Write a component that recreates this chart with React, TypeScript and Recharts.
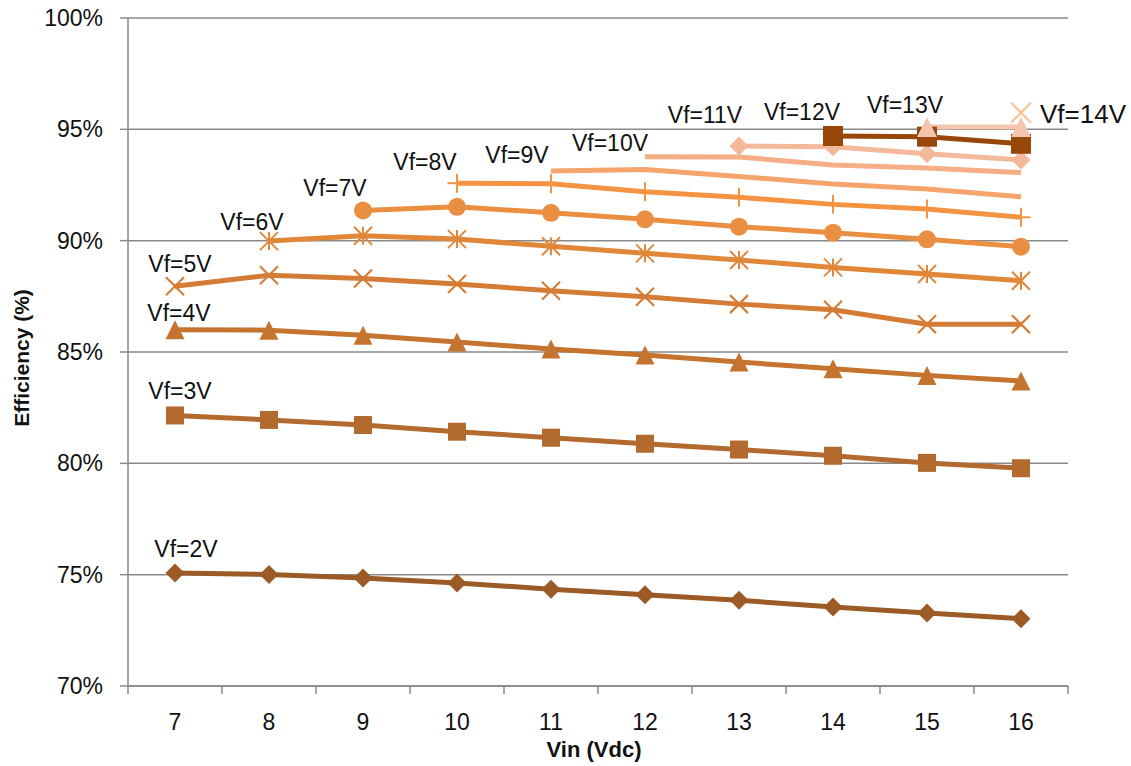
import { CartesianGrid, Label, Line, LineChart, XAxis, YAxis } from 'recharts'

// input voltage categories (Vdc)
const VIN = [7, 8, 9, 10, 11, 12, 13, 14, 15, 16]
// tick marks sit between the categories
const VIN_DIVIDERS = [6.5, 7.5, 8.5, 9.5, 10.5, 11.5, 12.5, 13.5, 14.5, 15.5, 16.5]
const EFF_TICKS = [70, 75, 80, 85, 90, 95, 100]

// efficiency (%) per forward voltage, null where the converter can't run
const VF_2V = [75.08, 75.01, 74.85, 74.63, 74.35, 74.1, 73.85, 73.55, 73.28, 73.02]
const VF_3V = [82.15, 81.95, 81.72, 81.42, 81.15, 80.88, 80.62, 80.34, 80.02, 79.78]
const VF_4V = [86.0, 85.98, 85.75, 85.45, 85.13, 84.87, 84.55, 84.25, 83.95, 83.7]
const VF_5V = [87.95, 88.45, 88.3, 88.05, 87.75, 87.48, 87.15, 86.9, 86.25, 86.25]
const VF_6V = [null, 89.98, 90.22, 90.07, 89.75, 89.43, 89.13, 88.8, 88.5, 88.2]
const VF_7V = [null, null, 91.36, 91.52, 91.25, 90.96, 90.63, 90.36, 90.06, 89.73]
const VF_8V = [null, null, null, 92.58, 92.56, 92.2, 91.95, 91.63, 91.42, 91.05]
const VF_9V = [null, null, null, null, 93.13, 93.2, 92.88, 92.55, 92.32, 91.97]
const VF_10V = [null, null, null, null, null, 93.77, 93.76, 93.4, 93.26, 93.06]
const VF_11V = [null, null, null, null, null, null, 94.25, 94.22, 93.9, 93.62]
const VF_12V = [null, null, null, null, null, null, null, 94.7, 94.67, 94.35]
const VF_13V = [null, null, null, null, null, null, null, null, 95.1, 95.1]
const VF_14V = [null, null, null, null, null, null, null, null, null, 95.75]

type Shape = 'diamond' | 'square' | 'triangle' | 'x' | 'star' | 'circle' | 'plus' | 'none'

interface SeriesDef {
  key: string
  name: string
  values: Array<number | null>
  color: string
  shape: Shape
  size: number
  // label offset from the first point (text center x, baseline y)
  dx: number
  dy: number
  fontSize?: number
  anchor?: 'start' | 'middle'
}

const SERIES: SeriesDef[] = [
  { key: 'vf2', name: 'Vf=2V', values: VF_2V, color: '#9c5a27', shape: 'diamond', size: 19, dx: 11, dy: -16 },
  { key: 'vf3', name: 'Vf=3V', values: VF_3V, color: '#b36a2f', shape: 'square', size: 18, dx: 5, dy: -16 },
  { key: 'vf4', name: 'Vf=4V', values: VF_4V, color: '#c5742f', shape: 'triangle', size: 19, dx: 4, dy: -9 },
  { key: 'vf5', name: 'Vf=5V', values: VF_5V, color: '#d47c35', shape: 'x', size: 18, dx: 5, dy: -14 },
  { key: 'vf6', name: 'Vf=6V', values: VF_6V, color: '#e0873a', shape: 'star', size: 18, dx: -17, dy: -11 },
  { key: 'vf7', name: 'Vf=7V', values: VF_7V, color: '#ea8e41', shape: 'circle', size: 18, dx: -28, dy: -14 },
  { key: 'vf8', name: 'Vf=8V', values: VF_8V, color: '#f49341', shape: 'plus', size: 19, dx: -32, dy: -13 },
  { key: 'vf9', name: 'Vf=9V', values: VF_9V, color: '#f5a46c', shape: 'none', size: 0, dx: -34, dy: -8 },
  { key: 'vf10', name: 'Vf=10V', values: VF_10V, color: '#f5ae86', shape: 'none', size: 0, dx: -35, dy: -6 },
  { key: 'vf11', name: 'Vf=11V', values: VF_11V, color: '#f4b99b', shape: 'diamond', size: 19, dx: -34, dy: -23 },
  { key: 'vf12', name: 'Vf=12V', values: VF_12V, color: '#974709', shape: 'square', size: 20, dx: -31, dy: -16 },
  { key: 'vf13', name: 'Vf=13V', values: VF_13V, color: '#f6c5ae', shape: 'triangle', size: 20, dx: -22, dy: -14 },
  { key: 'vf14', name: 'Vf=14V', values: VF_14V, color: '#fbc59c', shape: 'x', size: 20, dx: 19, dy: 10, fontSize: 26, anchor: 'start' },
]

const rows = VIN.map((vin, i) => {
  const row: Record<string, number | null> = { vin }
  SERIES.forEach((s) => {
    row[s.key] = s.values[i]
  })
  return row
})

const FONT = '"Liberation Sans", Arial, sans-serif'
const AXIS_GRAY = '#898989'
const TEXT = '#111'

function Marker({ shape, cx, cy, color, size }: { shape: Shape; cx: number; cy: number; color: string; size: number }) {
  const h = size / 2
  switch (shape) {
    case 'diamond':
      return <polygon points={`${cx},${cy - h} ${cx + h},${cy} ${cx},${cy + h} ${cx - h},${cy}`} fill={color} />
    case 'square':
      return <rect x={cx - h} y={cy - h} width={size} height={size} fill={color} />
    case 'triangle':
      return <polygon points={`${cx},${cy - h} ${cx + h},${cy + h} ${cx - h},${cy + h}`} fill={color} />
    case 'circle':
      return <circle cx={cx} cy={cy} r={h} fill={color} />
    case 'x':
      return (
        <g stroke={color} strokeWidth={2.2}>
          <line x1={cx - h} y1={cy - h} x2={cx + h} y2={cy + h} />
          <line x1={cx - h} y1={cy + h} x2={cx + h} y2={cy - h} />
        </g>
      )
    case 'star':
      return (
        <g stroke={color} strokeWidth={2}>
          <line x1={cx - h} y1={cy - h} x2={cx + h} y2={cy + h} />
          <line x1={cx - h} y1={cy + h} x2={cx + h} y2={cy - h} />
          <line x1={cx} y1={cy - h} x2={cx} y2={cy + h} />
        </g>
      )
    case 'plus':
      return (
        <g stroke={color} strokeWidth={2}>
          <line x1={cx} y1={cy - h} x2={cx} y2={cy + h} />
          <line x1={cx - h} y1={cy} x2={cx + h} y2={cy} />
        </g>
      )
    default:
      return null
  }
}

function makeDot(s: SeriesDef) {
  const first = s.values.findIndex((v) => v != null)
  return (props: any) => {
    const { cx, cy, index, value } = props
    if (value == null || cy == null || Number.isNaN(cy)) return <g key={`${s.key}-${index}`} />
    return (
      <g key={`${s.key}-${index}`}>
        <Marker shape={s.shape} cx={cx} cy={cy} color={s.color} size={s.size} />
        {index === first && (
          <text
            x={cx + s.dx}
            y={cy + s.dy}
            textAnchor={s.anchor ?? 'middle'}
            fontFamily={FONT}
            fontSize={s.fontSize ?? 23}
            fill={TEXT}
          >
            {s.name}
          </text>
        )}
      </g>
    )
  }
}

function VinTick({ x, y, payload }: any) {
  const v = payload.value as number
  if (!Number.isInteger(v)) {
    return <line x1={x} x2={x} y1={y} y2={y + 8} stroke={AXIS_GRAY} strokeWidth={1.5} />
  }
  return (
    <text x={x} y={y + 44} textAnchor="middle" fontFamily={FONT} fontSize={23} fill={TEXT}>
      {v}
    </text>
  )
}

export default function App() {
  return (
    <div style={{ position: 'absolute', left: 0, top: 0, background: '#fff' }}>
      <LineChart
        width={1131}
        height={766}
        data={rows}
        margin={{ top: 18, right: 63, bottom: 10, left: 48 }}
        style={{ fontFamily: FONT }}
      >
        <CartesianGrid vertical={false} stroke={AXIS_GRAY} strokeWidth={1.5} />
        <XAxis
          dataKey="vin"
          type="number"
          domain={[6.5, 16.5]}
          ticks={[...VIN, ...VIN_DIVIDERS].sort((a, b) => a - b)}
          interval={0}
          tick={<VinTick />}
          tickLine={false}
          tickSize={0}
          tickMargin={0}
          height={70}
          axisLine={{ stroke: AXIS_GRAY, strokeWidth: 1.5 }}
        >
          <Label
            content={({ viewBox }: any) => (
              <text
                x={viewBox.x + viewBox.width / 2 - 4}
                y={viewBox.y + 71}
                textAnchor="middle"
                fontFamily={FONT}
                fontSize={22}
                fontWeight="bold"
                fill={TEXT}
              >
                Vin (Vdc)
              </text>
            )}
          />
        </XAxis>
        <YAxis
          type="number"
          domain={[70, 100]}
          ticks={EFF_TICKS}
          interval={0}
          width={80}
          tickSize={8}
          tickMargin={17}
          tickFormatter={(v) => `${v}%`}
          tick={{ fontSize: 23, fill: TEXT, fontFamily: FONT }}
          tickLine={{ stroke: AXIS_GRAY, strokeWidth: 1.5 }}
          axisLine={{ stroke: AXIS_GRAY, strokeWidth: 1.5 }}
        >
          <Label
            content={({ viewBox }: any) => {
              const x = viewBox.x - 27
              const y = viewBox.y + viewBox.height / 2 + 6
              return (
                <text
                  x={x}
                  y={y}
                  transform={`rotate(-90 ${x} ${y})`}
                  textAnchor="middle"
                  dominantBaseline="central"
                  fontFamily={FONT}
                  fontSize={21}
                  fontWeight="bold"
                  fill={TEXT}
                >
                  Efficiency (%)
                </text>
              )
            }}
          />
        </YAxis>
        {SERIES.map((s) => (
          <Line
            key={s.key}
            dataKey={s.key}
            name={s.name}
            type="linear"
            stroke={s.color}
            strokeWidth={5}
            dot={makeDot(s)}
            activeDot={false}
            connectNulls={false}
            isAnimationActive={false}
          />
        ))}
      </LineChart>
    </div>
  )
}
